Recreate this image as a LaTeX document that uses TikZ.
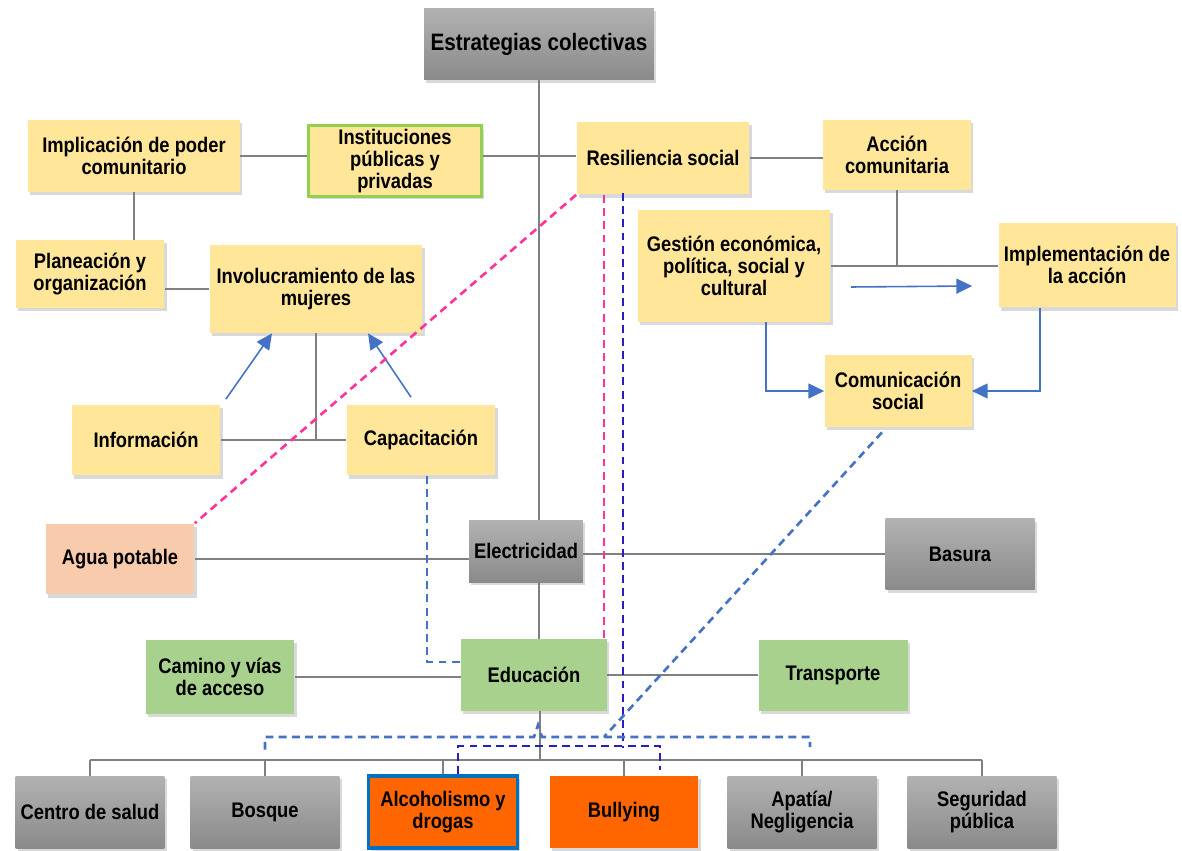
\documentclass[tikz,border=0pt]{standalone}
\usepackage{fontspec}
\setmainfont{Liberation Sans}[FakeStretch=0.87]
\usepackage{tikz}
\usetikzlibrary{arrows.meta,calc,shadows}
\usepackage{xcolor}
\definecolor{amarillo}{RGB}{255,230,153}
\definecolor{verdecaja}{RGB}{169,209,142}
\definecolor{naranja}{RGB}{255,102,0}
\definecolor{durazno}{RGB}{248,203,173}
\definecolor{grisclaro}{RGB}{178,178,178}
\definecolor{grisoscuro}{RGB}{138,138,138}
\definecolor{linea}{RGB}{128,128,128}
\definecolor{verdeborde}{RGB}{146,208,80}
\definecolor{azulborde}{RGB}{0,112,192}
\definecolor{azulflecha}{RGB}{68,114,196}
\definecolor{rosa}{RGB}{255,51,153}
\definecolor{azuloscuro}{RGB}{40,30,190}

\begin{document}
\begin{tikzpicture}[x=0.02cm,y=-0.02cm,
    caja/.style={rectangle,align=center,inner sep=2pt,minimum width=2.98cm,minimum height=1.42cm,
      font=\bfseries\fontsize{12}{12.5}\selectfont,
      drop shadow={shadow xshift=1.2pt,shadow yshift=-1.8pt,opacity=0.3}},
    amar/.style={caja,fill=amarillo},
    gris/.style={caja,top color=grisclaro,bottom color=grisoscuro},
    verde/.style={caja,fill=verdecaja},
    enlace/.style={draw=linea,line width=1.3pt},
    flecha/.style={draw=azulflecha,line width=0.9pt,-{Triangle[length=9pt,width=8.5pt]}},
    guion/.style={line width=1.5pt,dash pattern=on 4.5pt off 3pt},
    dashrosa/.style={guion,draw=rosa},
    dashclaro/.style={guion,draw=azulflecha},
    dashoscuro/.style={guion,draw=azuloscuro}]
    \useasboundingbox (0,0) rectangle (1182,851);
    % Upper part
    \node[gris,minimum width=4.6cm,minimum height=1.44cm,font=\bfseries\fontsize{13.5}{14}\selectfont] (titulo) at (539,44) {Estrategias colectivas};
    \node[amar,minimum width=4.24cm,minimum height=1.44cm] (implic) at (134,156) {Implicación de poder\\comunitario};
    \node[amar,draw=verdeborde,line width=1.7pt,minimum width=3.46cm,minimum height=1.38cm] (instit) at (395,161) {Instituciones\\públicas y\\privadas};
    \node[amar,minimum width=3.46cm,minimum height=1.46cm] (resil) at (663,158) {Resiliencia social};
    \node[amar,minimum width=2.96cm,minimum height=1.4cm] (accion) at (897,155) {Acción\\comunitaria};
    \node[amar,minimum height=1.36cm] (planea) at (90,274) {Planeación y\\organización};
    \node[amar,minimum width=4.26cm,minimum height=1.76cm] (involu) at (316,289) {Involucramiento de las\\mujeres};
    \node[amar,minimum width=3.86cm,minimum height=2.24cm] (gestion) at (734,266) {Gestión económica,\\política, social y\\cultural};
    \node[amar,minimum width=3.54cm,minimum height=1.7cm] (implem) at (1087,265) {Implementación de\\la acción};
    \node[amar,minimum width=2.94cm,minimum height=1.44cm] (comuni) at (898,391) {Comunicación\\social};
    \node[amar] (inform) at (146,440) {Información};
    \node[amar] (capaci) at (421,440) {Capacitación};
    % Services
    \node[caja,fill=durazno] (agua) at (120,559) {Agua potable};
    \node[gris,minimum width=2.28cm,minimum height=1.24cm] (electr) at (526,551) {Electricidad};
    \node[gris] (basura) at (960,554) {Basura};
    \node[verde,minimum height=1.48cm] (camino) at (220,677) {Camino y vías\\de acceso};
    \node[verde,minimum width=2.92cm,minimum height=1.44cm] (educa) at (534,675) {Educación};
    \node[verde] (transp) at (833,675) {Transporte};
    % Bottom row
    \node[gris,minimum height=1.44cm] (salud) at (90,812) {Centro de salud};
    \node[gris,minimum height=1.44cm] (bosque) at (265,812) {Bosque};
    \node[caja,fill=naranja,draw=azulborde,line width=2.2pt,minimum height=1.44cm] (alcoh) at (443,812) {Alcoholismo y\\drogas};
    \node[caja,fill=naranja,minimum height=1.44cm] (bully) at (624,812) {Bullying};
    \node[gris,minimum height=1.44cm] (apatia) at (802,812) {Apatía/\\Negligencia};
    \node[gris,minimum height=1.44cm] (seguri) at (982,812) {Seguridad\\pública};
    \coordinate (bus) at (540,760);
    \coordinate (llave) at (538,737);
    \coordinate (llaveder) at (810,737);
    \coordinate (cruce) at (604,737);
    \coordinate (rosavert) at (604,195);
    \coordinate (oscurovert) at (623,193);
    \coordinate (oscurollave) at (623,748);
    % Gray connections
    \draw[enlace] (titulo.south) -- (titulo.south |- electr.north);
    \draw[enlace] (electr.south -| titulo.south) -- (titulo.south |- educa.north);
    \draw[enlace] (educa.south -| bus) -- (bus);
    \draw[enlace] (salud.north |- bus) -- (seguri.north |- bus);
    \foreach \b in {salud,bosque,alcoh,bully,apatia,seguri}
        \draw[enlace] (\b.north) -- (\b.north |- bus);
    \draw[enlace] (implic.east) -- (implic.east -| instit.west);
    \draw[enlace] (implic.east -| instit.east) -- (implic.east -| resil.west);
    \draw[enlace] (resil.east) -- (resil.east -| accion.west);
    \draw[enlace] (implic.south) -- (implic.south |- planea.north);
    \draw[enlace] (planea.east |- involu.west) -- (involu.west);
    \draw[enlace] (involu.south) -- (involu.south |- capaci.west) -- (capaci.west);
    \draw[enlace] (inform.east) -- (inform.east -| involu.south);
    \draw[enlace] (accion.south) -- (accion.south |- gestion.east);
    \draw[enlace] (gestion.east) -- (gestion.east -| implem.west);
    \draw[enlace] (agua.east) -- (agua.east -| electr.west);
    \draw[enlace] (basura.west -| electr.east) -- (basura.west);
    \draw[enlace] (camino.east) -- (camino.east -| educa.west);
    \draw[enlace] (educa.east) -- (educa.east -| transp.west);
    % Blue arrows
    \draw[flecha] ($(inform.north east)+(5,-5)$) -- ($(involu.south)+(-44,0)$);
    \draw[flecha] ($(capaci.north)+(-10,-7)$) -- ($(involu.south)+(52,0)$);
    \draw[flecha] ($(gestion.east)+(20,21)$) -- ($(implem.west)+(-26,21)$);
    \draw[flecha] ($(gestion.south)+(32,0)$) |- (comuni.west);
    \draw[flecha] ($(implem.south)+(-47,0)$) |- (comuni.east);
    % Dashed links
    \draw[dashrosa] (resil.south west) -- (agua.north east);
    \draw[dashrosa] (rosavert) -- (rosavert |- educa.north);
    \draw[dashoscuro] (oscurovert) -- (oscurollave);
    \draw[dashoscuro] ($(alcoh.north)+(15,0)$) -- ++(0,-28) -| ($(bully.north)+(36,-6)$);
    \draw[dashclaro] ($(capaci.south)+(6,0)$) |- ($(educa.west)+(0,-13)$);
    \draw[dashclaro] ($(comuni.south)+(-16,5)$) -- (cruce);
    \draw[dashclaro] ($(bosque.north)+(0,-26)$) |- ($(llave)+(-4,0)$) -- ($(llave)+(0,-12)$)
        -- ($(llave)+(4,0)$) -- (llaveder) -- ++(0,10);
\end{tikzpicture}
\end{document}
